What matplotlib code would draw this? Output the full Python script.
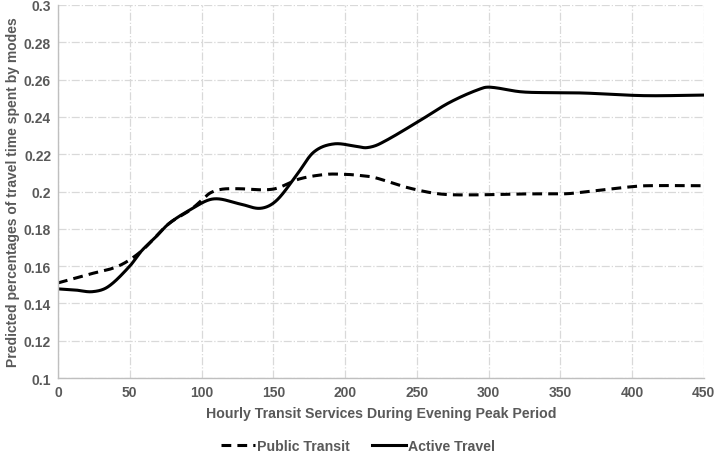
import numpy as np
import matplotlib
matplotlib.use("Agg")
import matplotlib.pyplot as plt

# ---- data ----
pt_x = [0, 21, 42, 58, 77, 92, 100, 106, 114, 125, 150, 168, 187, 200, 208, 220, 243, 266, 289, 322, 354,
        368, 396, 410, 450]
pt_y = [0.151, 0.1555, 0.160, 0.168, 0.1826, 0.190, 0.1952, 0.1992, 0.2012, 0.2015, 0.2013, 0.2067, 0.2092,
        0.2092, 0.2088, 0.2076, 0.2022, 0.1987, 0.1982, 0.1987, 0.1988, 0.1999, 0.2023, 0.2031, 0.2031]

at_x = [0, 12, 24, 35, 50, 58, 68, 77, 91, 108, 127, 141, 152, 166, 178, 192, 208, 215, 224, 250, 273,
        296, 303, 322, 340, 366, 408, 450]
at_y = [0.1478, 0.1472, 0.1463, 0.149, 0.160, 0.168, 0.1755, 0.1826, 0.1897, 0.196, 0.1933, 0.191, 0.195,
        0.2085, 0.221, 0.2255, 0.2242, 0.2235, 0.2255, 0.237, 0.2478, 0.2555, 0.2558, 0.2535, 0.253, 0.2528,
        0.2514, 0.2517]

series_names = ["Public Transit", "Active Travel"]
x_ticks = list(range(0, 451, 50))
y_ticks = [0.1, 0.12, 0.14, 0.16, 0.18, 0.2, 0.22, 0.24, 0.26, 0.28, 0.3]
y_tick_labels = ["0.1", "0.12", "0.14", "0.16", "0.18", "0.2", "0.22", "0.24", "0.26", "0.28", "0.3"]
x_label = "Hourly Transit Services During Evening Peak Period"
y_label = "Predicted percentages of travel time spent by modes"


def cardinal(x, y, xn):
    """Hermite cubic with Catmull-Rom style (central difference) slopes."""
    x = np.asarray(x, float); y = np.asarray(y, float)
    n = len(x); h = np.diff(x)
    m = np.zeros(n)
    m[1:-1] = (y[2:] - y[:-2]) / (x[2:] - x[:-2])
    m[0] = (y[1] - y[0]) / h[0]
    m[-1] = (y[-1] - y[-2]) / h[-1]
    idx = np.clip(np.searchsorted(x, xn) - 1, 0, n - 2)
    t = (xn - x[idx]) / h[idx]
    h00 = 2 * t**3 - 3 * t**2 + 1; h10 = t**3 - 2 * t**2 + t
    h01 = -2 * t**3 + 3 * t**2; h11 = t**3 - t**2
    return h00 * y[idx] + h10 * h[idx] * m[idx] + h01 * y[idx + 1] + h11 * h[idx] * m[idx + 1]


plt.rcParams['font.family'] = ['Liberation Sans', 'DejaVu Sans']
fig = plt.figure(figsize=(7.16, 4.6), dpi=100)
ax = fig.add_axes([0.081, 0.176, 0.902, 0.811])

xs = np.linspace(0, 450, 1800)
l1, = ax.plot(xs, cardinal(pt_x, pt_y, xs), color='black', lw=2.2, dashes=(3.2, 2.0),
              solid_capstyle='butt', dash_capstyle='butt', label=series_names[0])
l2, = ax.plot(xs, cardinal(at_x, at_y, xs), color='black', lw=2.2, label=series_names[1])

ax.set_xlim(0, 450)
ax.set_ylim(0.1, 0.3)
ax.set_xticks(x_ticks)
ax.set_yticks(y_ticks)
ax.set_yticklabels(y_tick_labels)
ax.tick_params(length=0, labelsize=10, colors='#595959', pad=5)
for lab in ax.get_xticklabels() + ax.get_yticklabels():
    lab.set_fontweight('bold')
ax.grid(True, color='#d9d9d9', linestyle='-.', linewidth=0.9)
ax.set_axisbelow(True)
for s in ['top', 'right']:
    ax.spines[s].set_visible(False)
for s in ['left', 'bottom']:
    ax.spines[s].set_color('#bfbfbf')
    ax.spines[s].set_linewidth(1.0)

ax.set_xlabel(x_label, fontsize=10.2, fontweight='bold', color='#595959', labelpad=5)
ax.set_ylabel(y_label, fontsize=10, fontweight='bold', color='#595959', labelpad=3)

leg = fig.legend(handles=[l1, l2], loc='center', bbox_to_anchor=(0.5, 0.028), ncol=2, frameon=False,
                 handlelength=2.4, handletextpad=0.1, columnspacing=1.6,
                 prop={'size': 10.2, 'weight': 'bold'})
for t in leg.get_texts():
    t.set_color('#595959')

fig.savefig("out.png", dpi=100)
